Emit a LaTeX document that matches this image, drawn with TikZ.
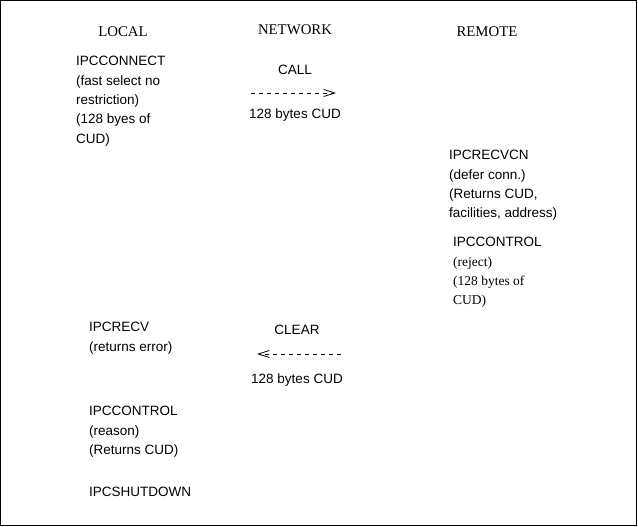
\documentclass[tikz,border=0pt]{standalone}
\usepackage{fontspec}
\setmainfont{Liberation Serif}
\setsansfont{Liberation Sans}
\usetikzlibrary{arrows.meta}
\begin{document}
\begin{tikzpicture}[x=1pt,y=-1pt,
  head/.style={font=\rmfamily\fontsize{14.8}{16}\selectfont, inner sep=0pt},
  blk/.style={font=\sffamily\fontsize{13.5}{19.4}\selectfont, align=left, anchor=north west, inner sep=0pt},
  lbl/.style={font=\sffamily\fontsize{13.5}{16}\selectfont, inner sep=0pt},
  msg/.style={dashed, dash pattern=on 4pt off 4pt, line width=0.8pt, -{Straight Barb[length=11pt,width=7pt,line width=0.8pt]}}
]
\useasboundingbox (0,0) rectangle (638,527);
\draw[line width=1.2pt] (0.6,0.6) rectangle (636.6,525.2);

\node[head] (local) at (123,32) {LOCAL};
\node[head] (network) at (295,30) {NETWORK};
\node[head] (remote) at (487,32) {REMOTE};

\node[blk] (connect) at (76,56) {IPCCONNECT\\(fast select no\\restriction)\\(128 byes of\\CUD)};

\node[lbl] (call) at (295,70) {CALL};
\coordinate (c1) at (251,93);
\coordinate (c2) at (336,93);
\draw[msg] (c1) -- (c2);
\node[lbl, anchor=base] (callcud) at (295,119) {128 bytes CUD};

\node[blk] (recvcn) at (449,150) {IPCRECVCN\\(defer conn.)\\(Returns CUD,\\facilities, address)};

\node[blk] (rctl) at (453,237) {IPCCONTROL\\{\rmfamily (reject)}\\{\rmfamily (128 bytes of}\\{\rmfamily CUD)}};

\node[blk] (recv) at (89,322) {IPCRECV\\(returns error)};

\node[lbl] (clear) at (297,330) {CLEAR};
\coordinate (d1) at (341,354);
\coordinate (d2) at (257,354);
\draw[msg] (d1) -- (d2);
\node[lbl, anchor=base] (clearcud) at (297,383) {128 bytes CUD};

\node[blk] (lctl) at (89,406) {IPCCONTROL\\(reason)\\(Returns CUD)};

\node[blk] (shut) at (89,487) {IPCSHUTDOWN};
\end{tikzpicture}
\end{document}
